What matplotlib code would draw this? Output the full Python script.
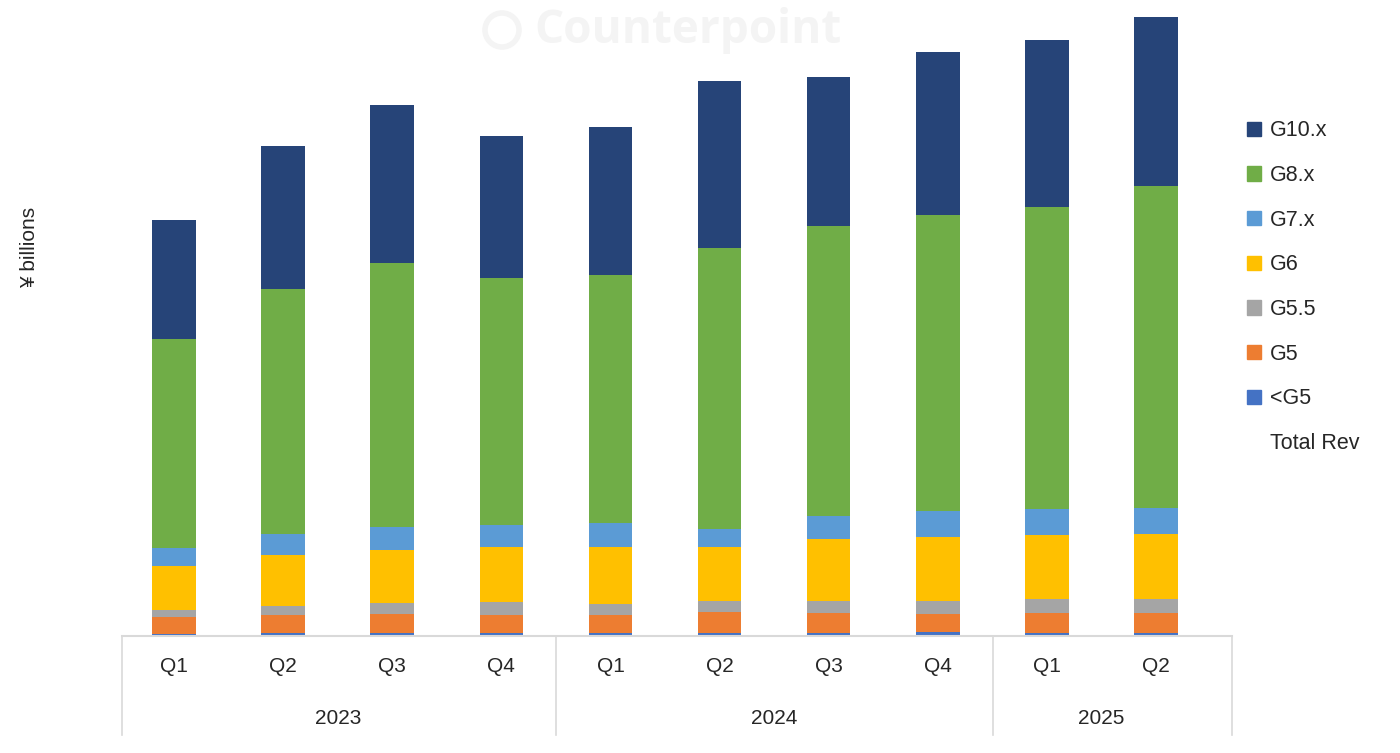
import numpy as np
import matplotlib
matplotlib.use("Agg")
import matplotlib.pyplot as plt
from matplotlib.patches import Patch, Ellipse

plt.rcParams['font.family'] = ['Liberation Sans', 'DejaVu Sans']

quarters = ["Q1", "Q2", "Q3", "Q4", "Q1", "Q2", "Q3", "Q4", "Q1", "Q2"]
years = ["2023", "2024", "2025"]
year_spans = [(0, 3), (4, 7), (8, 9)]

# stacked revenue by generation (¥ billions)
lt_g5 = [0.2, 0.3, 0.3, 0.3, 0.3, 0.3, 0.3, 0.4, 0.3, 0.3]
g5 = [1.7, 1.8, 1.9, 1.8, 1.8, 2.1, 2.0, 1.8, 2.0, 2.0]
g55 = [0.7, 0.9, 1.1, 1.3, 1.1, 1.1, 1.2, 1.3, 1.4, 1.4]
g6 = [4.4, 5.1, 5.3, 5.5, 5.7, 5.4, 6.2, 6.4, 6.4, 6.5]
g7 = [1.8, 2.1, 2.3, 2.2, 2.4, 1.8, 2.3, 2.6, 2.6, 2.6]
g8 = [20.9, 24.5, 26.4, 24.7, 24.8, 28.1, 29.0, 29.6, 30.2, 32.2]
g10 = [11.9, 14.3, 15.8, 14.2, 14.8, 16.7, 14.9, 16.3, 16.7, 16.9]

series = [("<G5", lt_g5, "#4472C4"), ("G5", g5, "#ED7D31"), ("G5.5", g55, "#A5A5A5"),
          ("G6", g6, "#FFC000"), ("G7.x", g7, "#5B9BD5"), ("G8.x", g8, "#70AD47"),
          ("G10.x", g10, "#264478")]

fig = plt.figure(figsize=(14, 7.53), dpi=100)
ax = fig.add_axes([122 / 1400, 1 - 636 / 753, 1110 / 1400, 631 / 753])

x = np.arange(len(quarters))
bottom = np.zeros(len(quarters))
for name, vals, col in series:
    ax.bar(x, vals, 0.4, bottom=bottom, color=col, label=name, zorder=2)
    bottom += np.array(vals)

ax.set_xlim(-0.477, 9.697)
ax.set_ylim(0, 63.1)
ax.set_yticks([])
ax.set_xticks([])
for s in ["top", "right", "left"]:
    ax.spines[s].set_visible(False)
ax.spines["bottom"].set_color("#d9d9d9")
ax.spines["bottom"].set_linewidth(1.5)

# two-level category axis
tr = ax.get_xaxis_transform()
for i, q in enumerate(quarters):
    ax.text(i, -0.049, q, transform=tr, ha="center", va="center", fontsize=15, color="#262626")
for yr, (a, b) in zip(years, year_spans):
    ax.text((a + b) / 2, -0.13, yr, transform=tr, ha="center", va="center", fontsize=15, color="#262626")
for xv in [-0.477, 3.5, 7.507, 9.697]:
    ax.plot([xv, xv], [0, -0.157], transform=tr, color="#d9d9d9", lw=1.2, clip_on=False)

fig.text(30 / 1400, 1 - 247 / 753, "¥ billions", rotation=90, ha="center", va="center",
         fontsize=15, color="#262626")

# watermark
fig.text(688 / 1400, 1 - 30 / 753, "Counterpoint", ha="center", va="center", fontsize=33,
         fontweight="bold", color="#f4f4f4", family=["Open Sans", "DejaVu Sans"], zorder=0)
fig.patches.append(Ellipse((502 / 1400, 1 - 30 / 753), 34 / 1400, 34 / 753, fill=False,
                           ec="#f4f4f4", lw=4, transform=fig.transFigure, zorder=0))

handles = [Patch(color=c, label=n) for n, _, c in series[::-1]]
handles.append(Patch(color="none", label="Total Rev"))
fig.legend(handles=handles, loc="upper left", bbox_to_anchor=(1228 / 1400, 1 - 101 / 753),
           frameon=False, fontsize=15.5, handlelength=0.65, handleheight=0.65,
           handletextpad=0.4, labelspacing=1.1, labelcolor="#262626")

fig.savefig("out.png", dpi=100)
